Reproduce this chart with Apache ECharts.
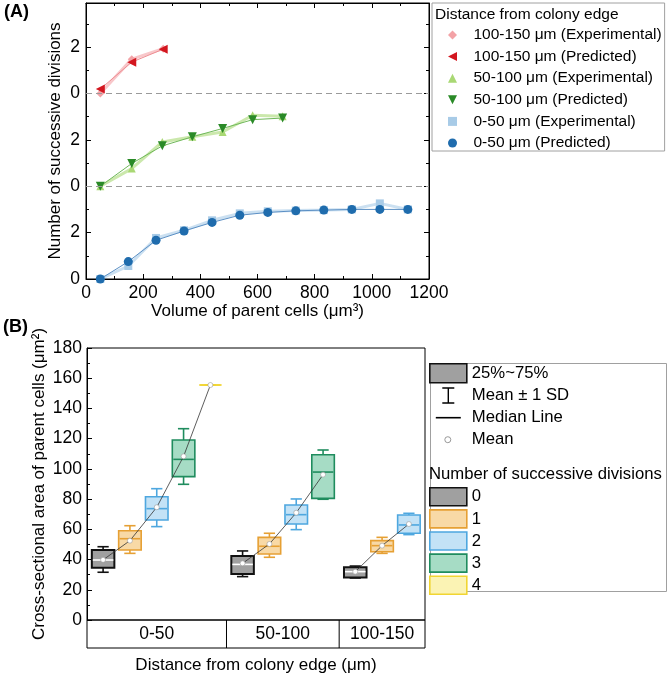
<!DOCTYPE html>
<html>
<head>
<meta charset="utf-8">
<script src="https://cdn.jsdelivr.net/npm/echarts@6/dist/echarts.min.js"></script>
<style>
  html, body { margin: 0; padding: 0; background: #fff; }
  #chart { width: 667px; height: 677px; }
</style>
</head>
<body>
<div id="chart"></div>
<script>
// ---- panel A: successive divisions vs parent volume (offset per distance band)
const volBlue = [50, 148, 245, 343, 441, 538, 636, 734, 832, 930, 1028, 1126];
const predBlue = [0, 0.75, 1.67, 2.07, 2.44, 2.75, 2.87, 2.94, 2.97, 3.0, 3.0, 3.0];
const expBlue = [0, 0.56, 1.77, 2.1, 2.53, 2.83, 2.92, 2.95, 2.97, 3.0, 3.26, 3.0];
const volGreen = [50, 160, 267, 372, 478, 583, 688];
const predGreen = [0, 0.98, 1.74, 2.13, 2.49, 2.87, 2.94];
const expGreen = [0, 0.76, 1.91, 2.13, 2.34, 3.06, 3.02];
const volRed = [50, 160, 270];
const predRed = [0.19, 1.35, 1.91];
const expRed = [0, 1.48, 1.93];
const bandOffset = { blue: 0, green: 4, red: 8 };

// ---- panel B: cross-sectional area boxes, [meanMinusSD, Q1, median, Q3, meanPlusSD, mean]
const distGroups = ['0-50', '50-100', '100-150'];
const divisionNames = ['0', '1', '2', '3', '4'];
const box0to50 = [
  [31.6, 34.6, 39.7, 46.3, 48.5, 39.8],
  [44.1, 46.3, 53.8, 59.1, 62.4, 52.5],
  [61.8, 66.2, 73.7, 81.6, 86.9, 74.6],
  [89.8, 94.9, 106.3, 119.1, 126.6, 108.3],
  [155.5, 155.5, 155.5, 155.5, 155.5, 155.5]
];
const box50to100 = [
  [28.7, 30.4, 36.8, 42.4, 45.7, 37.5],
  [41.5, 43.7, 48.8, 54.7, 57.4, 50.3],
  [59.8, 63.5, 69.7, 76.1, 80.1, 71.0],
  [79.9, 80.5, 97.9, 109.4, 112.5, 96.2]
];
const box100to150 = [
  [27.8, 28.2, 32.0, 34.9, 35.7, 32.0],
  [44.1, 45.2, 49.2, 52.5, 54.7, 49.2],
  [56.5, 57.4, 62.9, 69.5, 70.6, 63.5]
];
const boxGroups = [box0to50, box50to100, box100to150];

const FONT = '"Liberation Sans", Arial, sans-serif';
const divFill = ['#a0a0a0', '#f8d9a6', '#c3e2f6', '#a6dcc5', '#fbf3b4'];
const divStroke = ['#111111', '#e6a034', '#4ea7df', '#1f8c5e', '#f1d532'];
const divMedian = ['#ffffff', '#e6a034', '#4ea7df', '#1f8c5e', '#f1d532'];

// slot layout along panel B's x scale
const PAD = 0.6;
const BOX_W = 0.84;
const CAP_W = 0.42;
const groupStart = [];
const groupEnd = [];
let cursor = 0;
boxGroups.forEach((g) => {
  groupStart.push(cursor);
  cursor += (g.length - 1) + 2 * PAD;
  groupEnd.push(cursor);
});
const xMaxB = cursor;
const slotX = (g, k) => groupStart[g] + PAD + k;

const pairs = (xs, ys, off) => xs.map((x, i) => [x, ys[i] + off]);

const makeBoxRenderer = (k) => (params, api) => {
  const x = api.value(0);
  const pLo = api.coord([x, api.value(1)]);
  const pQ1 = api.coord([x, api.value(2)]);
  const pMed = api.coord([x, api.value(3)]);
  const pQ3 = api.coord([x, api.value(4)]);
  const pHi = api.coord([x, api.value(5)]);
  const half = api.size([BOX_W, 0])[0] / 2;
  const cap = api.size([CAP_W, 0])[0] / 2;
  const cx = pMed[0];
  const ws = { stroke: divStroke[k], lineWidth: 1.6 };
  return {
    type: 'group',
    children: [
      { type: 'line', shape: { x1: cx, y1: pQ3[1], x2: cx, y2: pHi[1] }, style: ws },
      { type: 'line', shape: { x1: cx - cap, y1: pHi[1], x2: cx + cap, y2: pHi[1] }, style: ws },
      { type: 'line', shape: { x1: cx, y1: pQ1[1], x2: cx, y2: pLo[1] }, style: ws },
      { type: 'line', shape: { x1: cx - cap, y1: pLo[1], x2: cx + cap, y2: pLo[1] }, style: ws },
      {
        type: 'rect',
        shape: { x: cx - half, y: pQ3[1], width: half * 2, height: pQ1[1] - pQ3[1] },
        style: { fill: divFill[k], stroke: divStroke[k], lineWidth: k === 0 ? 2 : 1.6 }
      },
      { type: 'line', shape: { x1: cx - half + 1, y1: pMed[1], x2: cx + half - 1, y2: pMed[1] }, style: { stroke: divMedian[k], lineWidth: 1.6 } }
    ]
  };
};

const boxSeries = divisionNames.map((name, k) => ({
  name,
  type: 'custom',
  xAxisIndex: 2,
  yAxisIndex: 2,
  renderItem: makeBoxRenderer(k),
  encode: { x: 0, y: [1, 2, 3, 4, 5] },
  data: boxGroups
    .map((g, gi) => (g[k] ? [slotX(gi, k), ...g[k].slice(0, 5)] : null))
    .filter(Boolean),
  z: 2
}));

const meanSeries = boxGroups.map((g, gi) => ({
  name: 'Mean',
  type: 'line',
  xAxisIndex: 2,
  yAxisIndex: 2,
  data: g.map((b, k) => [slotX(gi, k), b[5]]),
  symbol: 'circle',
  symbolSize: 5,
  itemStyle: { color: '#ffffff', borderColor: '#999', borderWidth: 0.6 },
  lineStyle: { color: '#333', width: 0.8 },
  z: 5
}));

const legendDummies = ['25%~75%', 'Mean ± 1 SD', 'Median Line'].map((name) => ({
  name, type: 'line', xAxisIndex: 2, yAxisIndex: 2, data: []
}));

const bandSeries = {
  type: 'custom',
  xAxisIndex: 3,
  yAxisIndex: 3,
  data: distGroups.map((_, gi) => [groupStart[gi], groupEnd[gi]]),
  renderItem: (params, api) => {
    const a = api.coord([api.value(0), 1]);
    const b = api.coord([api.value(1), 0]);
    const children = [{
      type: 'text',
      style: {
        text: distGroups[params.dataIndex], x: (a[0] + b[0]) / 2, y: (a[1] + b[1]) / 2,
        align: 'center', verticalAlign: 'middle', fontSize: 17.5, fontFamily: FONT, fill: '#000'
      }
    }];
    if (params.dataIndex < distGroups.length - 1) {
      children.push({ type: 'line', shape: { x1: b[0], y1: a[1], x2: b[0], y2: b[1] }, style: { stroke: '#000', lineWidth: 1 } });
    }
    return { type: 'group', children };
  }
};

const LT = 'path://M0,5L10,0L10,10Z';
const DT = 'path://M0,0L10,0L5,10Z';
const UT = 'path://M5,0L10,10L0,10Z';
const DM = 'path://M5,0L10,5L5,10L0,5Z';
const SQ = 'path://M0,0L10,0L10,10L0,10Z';
const colA = {
  redP: '#d3161f', redE: '#f3a2a6', redL: '#ee8d92',
  greenP: '#2a8a27', greenE: '#a9d874', greenL: '#6fb85a',
  blueP: '#1f6cad', blueE: '#a8cbe7', blueL: '#5b8fc4'
};

const expLine = (name, xs, ys, off, sym, c) => ({
  name, type: 'line', xAxisIndex: 0, yAxisIndex: 0,
  data: pairs(xs, ys, off), symbol: sym, symbolSize: 8,
  itemStyle: { color: c }, lineStyle: { color: c, width: 3, opacity: 0.6 }, z: 2
});
const predLine = (name, xs, ys, off, sym, c, lc) => ({
  name, type: 'line', xAxisIndex: 0, yAxisIndex: 0,
  data: pairs(xs, ys, off), symbol: sym, symbolSize: 9,
  itemStyle: { color: c }, lineStyle: { color: lc, width: 1 }, z: 3
});

const seriesA = [
  expLine('100-150 μm (Experimental)', volRed, expRed, bandOffset.red, 'diamond', colA.redE),
  predLine('100-150 μm (Predicted)', volRed, predRed, bandOffset.red, LT, colA.redP, colA.redL),
  expLine('50-100 μm (Experimental)', volGreen, expGreen, bandOffset.green, 'triangle', colA.greenE),
  predLine('50-100 μm (Predicted)', volGreen, predGreen, bandOffset.green, DT, colA.greenP, colA.greenL),
  expLine('0-50 μm (Experimental)', volBlue, expBlue, bandOffset.blue, 'rect', colA.blueE),
  predLine('0-50 μm (Predicted)', volBlue, predBlue, bandOffset.blue, 'circle', colA.blueP, colA.blueL)
];
seriesA[5].markLine = {
  silent: true,
  symbol: ['none', 'none'],
  label: { show: false },
  lineStyle: { color: '#9a9a9a', type: [6, 4], width: 1 },
  data: [{ yAxis: bandOffset.green }, { yAxis: bandOffset.red }]
};

const legendAIcons = [DM, LT, UT, DT, SQ, 'circle'];

const tickStyle = { lineStyle: { color: '#000', width: 1 } };
const labelStyle = { color: '#000', fontSize: 17.5, fontFamily: FONT };
const nameStyle = { color: '#000', fontSize: 17, fontFamily: FONT };

const frameAxis = (extra) => Object.assign({
  type: 'value',
  nameMoveOverlap: false,
  axisLine: { show: true, onZero: false, lineStyle: { color: '#000', width: 1 } },
  axisTick: Object.assign({ show: true, inside: true, length: 5 }, tickStyle),
  minorTick: Object.assign({ show: true, splitNumber: 2, length: 3 }, tickStyle),
  splitLine: { show: false },
  minorSplitLine: { show: false }
}, extra);

const option = {
  animation: false,
  backgroundColor: '#fff',
  textStyle: { fontFamily: FONT },
  title: [
    { text: '(A)', left: 4, top: 3, padding: 0, textStyle: { fontSize: 18, fontWeight: 'bold', fontFamily: FONT, color: '#000' } },
    { text: '(B)', left: 3, top: 318, padding: 0, textStyle: { fontSize: 18, fontWeight: 'bold', fontFamily: FONT, color: '#000' } },
    { text: 'Distance from colony edge', left: 435, top: 7, padding: 0, textStyle: { fontSize: 15.5, fontWeight: 'normal', fontFamily: FONT, color: '#000' } },
    { text: 'Number of successive divisions', left: 429, top: 466, padding: 0, textStyle: { fontSize: 16.7, fontWeight: 'normal', fontFamily: FONT, color: '#000' } }
  ],
  legend: [
    {
      orient: 'vertical', left: 432, top: 3, padding: [24, 3, 0, 16],
      itemWidth: 32, itemHeight: 9, itemGap: 5.6, symbolKeepAspect: true, selectedMode: false,
      borderColor: '#a0a0a0', borderWidth: 1,
      textStyle: { fontSize: 15.5, fontFamily: FONT, color: '#000' },
      data: seriesA.map((s, i) => ({ name: s.name, icon: legendAIcons[i] }))
    },
    {
      orient: 'vertical', left: 429, top: 363, padding: 0,
      itemWidth: 37, itemHeight: 19, itemGap: 1.7, symbolKeepAspect: true, selectedMode: false,
      textStyle: { fontSize: 16.7, fontFamily: FONT, color: '#000' },
      data: [
        { name: '25%~75%', icon: 'rect', itemStyle: { color: '#a0a0a0', borderColor: '#111', borderWidth: 1.6 } },
        { name: 'Mean ± 1 SD', icon: 'path://M0,0M37,19M12.5,2H24.5M18.5,2V17M12.5,17H24.5', itemStyle: { color: 'transparent', borderColor: '#000', borderWidth: 1.4 } },
        { name: 'Median Line', icon: 'path://M0,0M37,19M6,9.5H31', itemStyle: { color: 'transparent', borderColor: '#000', borderWidth: 1.6 } },
        { name: 'Mean', icon: 'path://M0,0M37,19M21,9.5A3,3,0,1,1,15,9.5A3,3,0,1,1,21,9.5Z', itemStyle: { color: '#fff', borderColor: '#999', borderWidth: 1 } }
      ]
    },
    {
      orient: 'vertical', left: 429, top: 487, padding: 0,
      itemWidth: 37, itemHeight: 18, itemGap: 2.5, symbolKeepAspect: false, selectedMode: false,
      textStyle: { fontSize: 16.7, fontFamily: FONT, color: '#000' },
      data: divisionNames.map((name, k) => ({
        name, icon: 'rect', itemStyle: { color: divFill[k], borderColor: divStroke[k], borderWidth: 1.6 }
      }))
    }
  ],
  graphic: [{
    type: 'rect', left: 428, top: 361, silent: true,
    shape: { width: 236, height: 228 },
    style: { fill: 'none', stroke: '#a0a0a0', lineWidth: 1 }
  }],
  grid: [
    { left: 86, top: 3, width: 343, height: 276, show: true, borderColor: '#000', borderWidth: 1, backgroundColor: 'transparent', containLabel: false, outerBoundsMode: 'none' },
    { left: 87, top: 348, width: 338, height: 272, show: true, borderColor: '#000', borderWidth: 1, backgroundColor: 'transparent', containLabel: false, outerBoundsMode: 'none' },
    { left: 87, top: 620, width: 338, height: 28, show: true, borderColor: '#000', borderWidth: 1, backgroundColor: 'transparent', containLabel: false, outerBoundsMode: 'none' }
  ],
  xAxis: [
    frameAxis({
      gridIndex: 0, position: 'bottom', min: 0, max: 1200, interval: 200,
      axisLabel: Object.assign({ margin: 5, formatter: (v) => String(v) }, labelStyle),
      name: 'Volume of parent cells (μm³)', nameLocation: 'middle', nameGap: 24, nameTextStyle: nameStyle
    }),
    frameAxis({ gridIndex: 0, position: 'top', min: 0, max: 1200, interval: 200, axisLabel: { show: false } }),
    {
      type: 'value', gridIndex: 1, min: 0, max: xMaxB,
      axisLine: { show: false }, axisTick: { show: false }, axisLabel: { show: false }, splitLine: { show: false }
    },
    {
      type: 'value', gridIndex: 2, min: 0, max: xMaxB, nameMoveOverlap: false,
      axisLine: { show: false }, axisTick: { show: false }, axisLabel: { show: false }, splitLine: { show: false },
      name: 'Distance from colony edge (μm)', nameLocation: 'middle', nameGap: 9, nameTextStyle: nameStyle
    }
  ],
  yAxis: [
    frameAxis({
      gridIndex: 0, position: 'left', min: 0, max: 11.9, interval: 2,
      axisLabel: Object.assign({
        margin: 6,
        formatter: (v) => (Math.abs(v % 2) < 1e-6 && v <= 10 ? String(v % 4) : '')
      }, labelStyle),
      name: 'Number of successive divisions', nameLocation: 'middle', nameGap: 22.5, nameTextStyle: nameStyle
    }),
    frameAxis({ gridIndex: 0, position: 'right', min: 0, max: 11.9, interval: 2, axisLabel: { show: false } }),
    frameAxis({
      gridIndex: 1, position: 'left', min: 0, max: 180, interval: 20,
      axisLabel: Object.assign({ margin: 5 }, labelStyle),
      name: 'Cross-sectional area of parent cells (μm²)', nameLocation: 'middle', nameGap: 39.5, nameTextStyle: nameStyle
    }),
    {
      type: 'value', gridIndex: 2, min: 0, max: 1,
      axisLine: { show: false }, axisTick: { show: false }, axisLabel: { show: false }, splitLine: { show: false }
    }
  ],
  series: [...seriesA, ...boxSeries, ...meanSeries, ...legendDummies, bandSeries]
};

const chart = echarts.init(document.getElementById('chart'), null, { renderer: 'canvas' });
chart.setOption(option);
</script>
</body>
</html>
